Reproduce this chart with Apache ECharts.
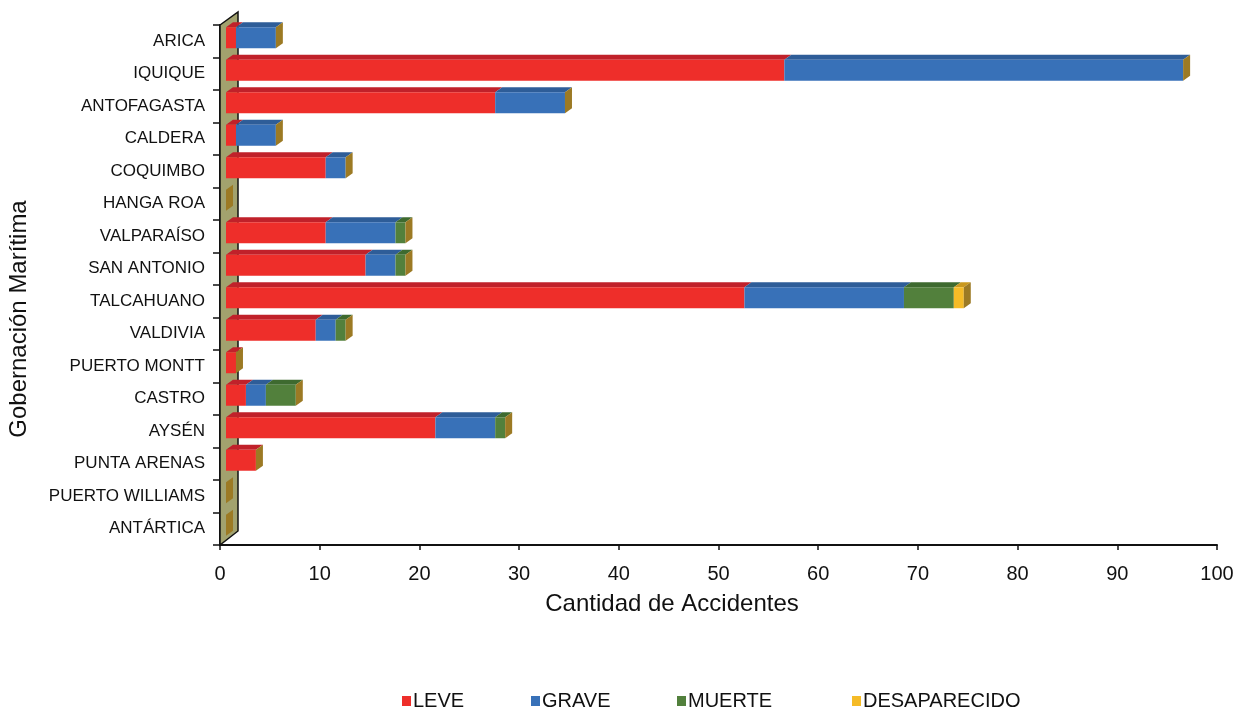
<!DOCTYPE html>
<html><head><meta charset="utf-8">
<script src="https://cdn.jsdelivr.net/npm/echarts@6/dist/echarts.min.js"></script>
<style>html,body{margin:0;padding:0;background:#fff}#c{width:1240px;height:707px}</style>
</head><body><div id="c"></div>
<script>
var categories = ['ARICA','IQUIQUE','ANTOFAGASTA','CALDERA','COQUIMBO','HANGA ROA','VALPARAÍSO','SAN ANTONIO','TALCAHUANO','VALDIVIA','PUERTO MONTT','CASTRO','AYSÉN','PUNTA ARENAS','PUERTO WILLIAMS','ANTÁRTICA'];
var leve         = [1,56,27,1,10,0,10,14,52,9,1,2,21,3,0,0];
var grave        = [4,40,7,4,2,0,7,3,16,2,0,2,6,0,0,0];
var muerte       = [0,0,0,0,0,0,1,1,5,1,0,3,1,0,0,0];
var desaparecido = [0,0,0,0,0,0,0,0,1,0,0,0,0,0,0,0];
var seriesNames  = ['LEVE','GRAVE','MUERTE','DESAPARECIDO'];
var xAxisMin = 0, xAxisMax = 100, xAxisStep = 10;
var xAxisTitle = 'Cantidad de Accidentes';
var yAxisTitle = 'Gobernación Marítima';

var seriesValues = [leve, grave, muerte, desaparecido];
var frontColors = ['#EE2E2A','#3871B8','#52803C','#F5BB27'];
var topColors   = ['#C0212A','#2E5D98','#3E6A2F','#C9981E'];
var capColor = '#9C7A24';
var FONT = 'Liberation Sans, Arial, sans-serif';

// build stacked [category, start, end] rows
var cum = categories.map(function(){return 0;});
var stackedData = seriesValues.map(function(vals){
  return vals.map(function(v, i){
    var s = cum[i]; cum[i] = s + v;
    return [i, s, s + v];
  });
});

function segRender(front, topc, cap){
  return function(params, api){
    var ci = api.value(0), s = api.value(1), e = api.value(2);
    var band = api.size([0,1])[1];
    var p0 = api.coord([s, ci]), p1 = api.coord([e, ci]);
    var cy = p0[1];
    var top = cy - band*0.43, bot = cy + band*0.215;
    var dx = 6, ddx = 7, ddy = 5;
    var x0 = p0[0] + dx, x1 = p1[0] + dx;
    var ch = [];
    if (e > s){
      ch.push({type:'polygon', shape:{points:[[x0,top],[x1,top],[x1+ddx,top-ddy],[x0+ddx,top-ddy]]}, style:{fill:topc}});
      ch.push({type:'rect', shape:{x:x0,y:top,width:x1-x0,height:bot-top}, style:{fill:front}});
    }
    if (cap){
      ch.push({type:'polygon', shape:{points:[[x1,top],[x1+ddx,top-ddy],[x1+ddx,bot-ddy],[x1,bot]]}, style:{fill:capColor}});
    }
    return {type:'group', children:ch};
  };
}

var series = [{
  type:'custom', name:'wall', silent:true, z:1,
  data:[[0,0]], encode:{x:0,y:1},
  renderItem:function(params, api){
    var band = api.size([0,1])[1];
    var a = api.coord([0,0]), b = api.coord([0,categories.length-1]);
    var x = a[0], t = a[1]-band/2, btm = b[1]+band/2;
    return {type:'polygon', shape:{points:[[x,t],[x+18,t-13],[x+18,btm-14],[x,btm]]},
      style:{fill:'#A2A26E', stroke:'#111', lineWidth:1.5}};
  }
}];
seriesNames.forEach(function(n, k){
  series.push({
    type:'custom', name:n, z:2+k,
    itemStyle:{color:frontColors[k]},
    data:stackedData[k], encode:{x:[1,2], y:0},
    renderItem:segRender(frontColors[k], topColors[k], k === seriesNames.length-1)
  });
});

var legendLeft = [397, 526, 672, 847];
var legends = seriesNames.map(function(n, k){
  return {data:[n], left:legendLeft[k], top:686, icon:'rect', itemWidth:9, itemHeight:10, itemGap:0,
    textStyle:{fontSize:20, color:'#111', fontFamily:FONT, padding:[0,0,0,-3]}};
});

var chart = echarts.init(document.getElementById('c'), null, {renderer:'canvas'});
chart.setOption({
  animation:false,
  color:frontColors,
  textStyle:{fontFamily:FONT},
  grid:{left:220, right:23, top:25, bottom:162, containLabel:false},
  legend:legends,
  xAxis:{
    type:'value', min:xAxisMin, max:xAxisMax, interval:xAxisStep,
    axisLine:{show:true, lineStyle:{color:'#111', width:2}},
    axisTick:{show:true, length:5, lineStyle:{color:'#111', width:1.5}},
    axisLabel:{fontSize:20, color:'#111', margin:19},
    splitLine:{show:false}
  },
  yAxis:{
    type:'category', data:categories, inverse:true,
    axisLine:{show:true, lineStyle:{color:'#111', width:2}},
    axisTick:{show:true, length:7, lineStyle:{color:'#111', width:1.5}},
    axisLabel:{fontSize:17, color:'#111', margin:15},
    splitLine:{show:false}
  },
  graphic:[{
    type:'text', x:19, y:319, rotation:Math.PI/2,
    style:{text:yAxisTitle, fontSize:24, fill:'#111', fontFamily:FONT, align:'center', verticalAlign:'middle', textAlign:'center', textVerticalAlign:'middle'}
  },{
    type:'text', x:672, y:604,
    style:{text:xAxisTitle, fontSize:24, fill:'#111', fontFamily:FONT, align:'center', verticalAlign:'middle', textAlign:'center', textVerticalAlign:'middle'}
  }],
  series:series
});
</script></body></html>
